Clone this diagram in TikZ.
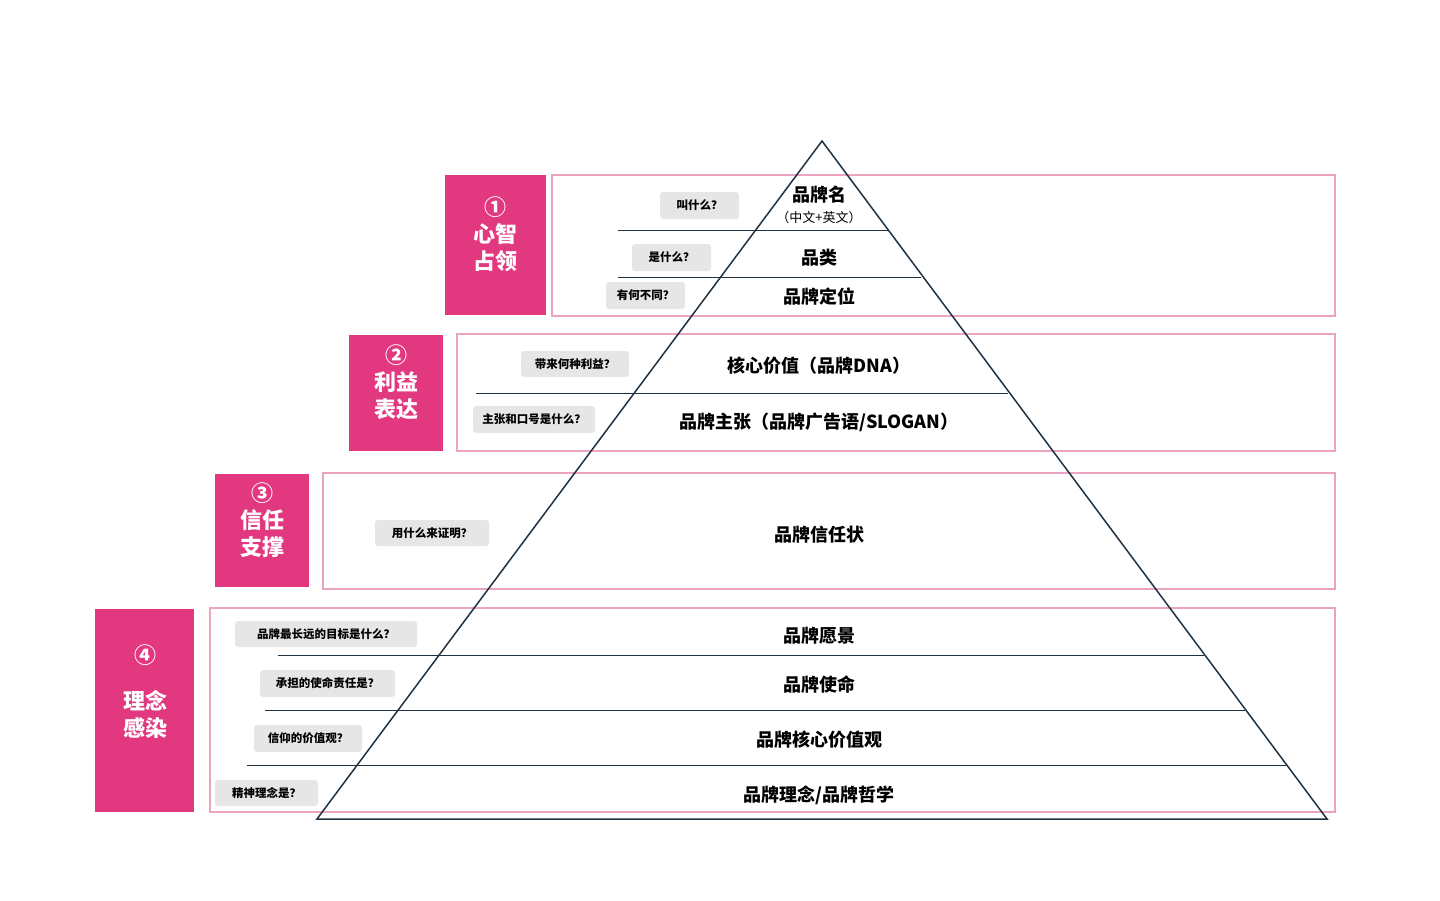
\documentclass[tikz,border=0pt]{standalone}
\usepackage{fontspec}
\setmainfont{Noto Sans CJK SC}
\definecolor{pk}{HTML}{E2387F}
\definecolor{pkl}{HTML}{EBA3BF}
\definecolor{nv}{HTML}{1F3244}
\definecolor{gr}{HTML}{E6E6E6}
\begin{document}
\begin{tikzpicture}[x=1pt,y=-1pt,
 lab/.style={fill=pk,draw=none},
 frame/.style={draw=pkl,line width=1.6pt},
 sep/.style={draw=nv,line width=0.8pt},
 main/.style={font=\fontsize{18}{20}\selectfont\bfseries,text=black},
 ltxt/.style={text=white,font=\fontsize{22}{27}\selectfont\bfseries,align=center}]
\useasboundingbox (0,0) rectangle (1440,900);
% frames
\draw[frame] (552,175) rectangle (1335,316);
\draw[frame] (457,334) rectangle (1335,451);
\draw[frame] (323,473) rectangle (1335,589);
\draw[frame] (210,608) rectangle (1335,812);
% label boxes
\fill[lab] (445,175) rectangle (546,315);
\fill[lab] (349,335) rectangle (443,451);
\fill[lab] (215,474) rectangle (309,587);
\fill[lab] (95,609) rectangle (194,812);
\node[ltxt] (l1) at (495.5,234) {①\\心智\\占领};
\node[ltxt] (l2) at (396,382) {②\\利益\\表达};
\node[ltxt] (l3) at (262,520) {③\\信任\\支撑};
\node[ltxt] (l4n) at (145,655) {④};
\node[ltxt] (l4) at (145,714) {理念\\感染};
% separators
\coordinate (s1a) at (618,230); \coordinate (s1b) at (888,230);
\coordinate (s2a) at (618,277); \coordinate (s2b) at (921,277);
\coordinate (s3a) at (476,393); \coordinate (s3b) at (1008,393);
\coordinate (s4a) at (278,655); \coordinate (s4b) at (1204,655);
\coordinate (s5a) at (265,710); \coordinate (s5b) at (1245,710);
\coordinate (s6a) at (247,765); \coordinate (s6b) at (1286,765);
\foreach \i in {1,...,6} \draw[sep] (s\i a) -- (s\i b);
% triangle
\coordinate (apex) at (822,141);
\coordinate (bl) at (317,819);
\coordinate (br) at (1327,819);
\draw[nv,line width=1.5pt,line join=miter] (apex) -- (bl) -- (br) -- cycle;
% pills
\foreach \n/\xa/\ya/\xb/\yb/\t in {
 p1/660/192/739/219/叫什么？,
 p2/632/244/711/271/是什么？,
 p3/606/282/685/309/有何不同？,
 p4/521/351/629/377/带来何种利益？,
 p5/473/406/595/433/主张和口号是什么？,
 p6/375/520/489/546/用什么来证明？,
 p7/235/621/417/647/品牌最长远的目标是什么？,
 p8/260/670/395/697/承担的使命责任是？,
 p9/254/725/362/752/信仰的价值观？,
 p10/215/780/318/806/精神理念是？}
 {\fill[gr,rounded corners=3pt] (\xa,\ya) rectangle (\xb,\yb);
  \node[font=\fontsize{11.5}{13}\selectfont\bfseries] (\n) at ({(\xa+\xb)/2},{(\ya+\yb)/2}) {\t};}
% main texts
\node[main] (m1) at (819,195) {品牌名};
\node[font=\fontsize{13}{15}\selectfont] (m1b) at (819,218) {（中文+英文）};
\node[main] (m2) at (819,258) {品类};
\node[main] (m3) at (819,297) {品牌定位};
\node[main] (m4) at (819,366) {核心价值（品牌DNA）};
\node[main] (m5) at (819,422) {品牌主张（品牌广告语/SLOGAN）};
\node[main] (m6) at (819,535) {品牌信任状};
\node[main] (m7) at (819,636) {品牌愿景};
\node[main] (m8) at (819,685) {品牌使命};
\node[main] (m9) at (819,740) {品牌核心价值观};
\node[main] (m10) at (819,795) {品牌理念/品牌哲学};
\end{tikzpicture}
\end{document}
